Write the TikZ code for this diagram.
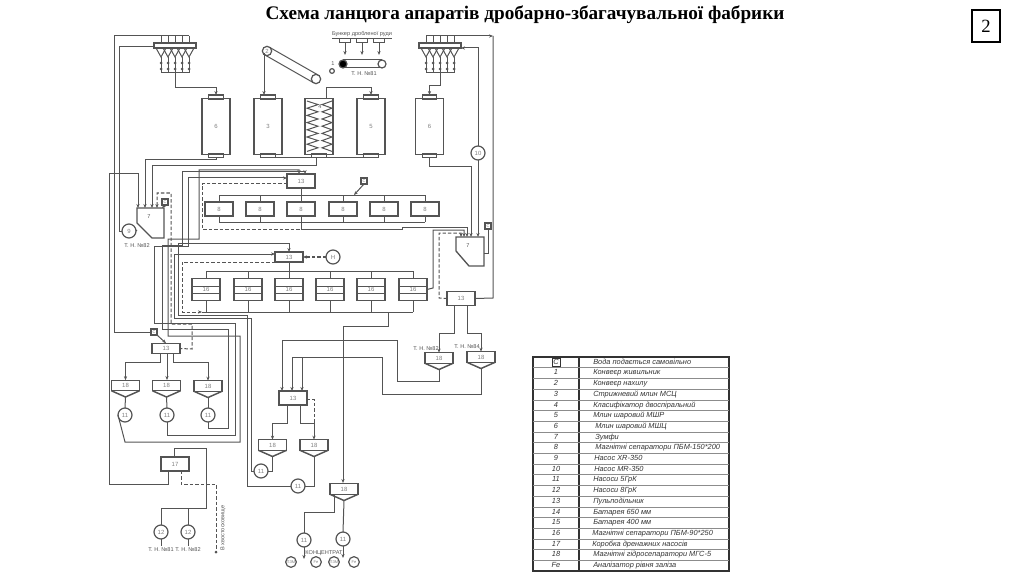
\documentclass[tikz,border=0pt]{standalone}
\usepackage{fontspec}
\setmainfont{Liberation Serif}
\setsansfont{Liberation Sans}
\usetikzlibrary{arrows.meta,positioning,calc}
\definecolor{pipegray}{gray}{0.33}
\tikzset{
  >={Stealth[length=3pt,width=2.4pt]},
  pipe/.style={draw=pipegray,line width=0.75pt},
  drain/.style={draw=pipegray,line width=0.75pt,dash pattern=on 2.6pt off 1.5pt},
  unit/.style={draw=pipegray,line width=0.9pt,inner sep=0pt,outer sep=0pt,font=\sffamily\fontsize{4.5}{5}\selectfont,text=gray},
  sepbox/.style={unit,minimum width=21pt,minimum height=10.5pt},
  splitbox/.style={unit,minimum width=21pt,minimum height=10.5pt},
  millbox/.style={unit,minimum width=21pt,minimum height=41.5pt},
  capbox/.style={unit,minimum width=11pt,minimum height=3pt},
  hopperbox/.style={unit,minimum width=21pt,minimum height=8pt},
  pumpnode/.style={unit,circle,minimum size=10.5pt},
  waternode/.style={unit,minimum size=4.5pt,font=\sffamily\fontsize{3}{3}\selectfont},
  tag/.style={inner sep=0pt,font=\sffamily\fontsize{4.2}{5}\selectfont,text=pipegray},
  legtext/.style={inner sep=0pt,anchor=west,text height=4pt,text depth=1.2pt,font=\sffamily\itshape\fontsize{5.55}{7}\selectfont,text=black!80},
  legnum/.style={inner sep=0pt,text height=4pt,text depth=1.2pt,font=\sffamily\itshape\fontsize{5.55}{7}\selectfont,text=black!80},
}
\begin{document}
\begin{tikzpicture}[x=0.75pt,y=-0.75pt]
  \useasboundingbox (0,0) rectangle (1024,574);

  % title and page number
  \node[font=\bfseries\fontsize{14.4}{16}\selectfont] (title) at (525,15) {Схема ланцюга апаратів дробарно-збагачувальної фабрики};
  \node[draw,line width=1pt,minimum width=21pt,minimum height=24pt,inner sep=0pt,font=\fontsize{14}{16}\selectfont] (pagebox) at (986,26) {2};

  % feed hoppers
  \foreach \g/\x in {L/154,R/419}{
    \node[unit,minimum width=31.5pt,minimum height=3.7pt] (bar\g) at ({\x+21},45.5) {};
    \foreach \k in {0,...,4}{
      \coordinate (top\g\k) at ({\x+7+\k*7},36);
      \coordinate (foot\g\k) at ({\x+7+\k*7},73);
      \draw[pipe] ({\x+2+\k*7},48) -- ({\x+7+\k*7},57) -- ({\x+12+\k*7},48);
      \draw[pipe] (top\g\k) -- ({\x+7+\k*7},43);
      \draw[pipe] ({\x+7+\k*7},57) -- (foot\g\k);
      \fill[pipegray] ({\x+7+\k*7},63) circle (1.5) ({\x+7+\k*7},69) circle (1.5);
    }
    \draw[pipe] (top\g0) -- (top\g4);
    \draw[pipe] (foot\g0) -- (foot\g4);
  }
  \coordinate (feedLout) at (175,73);
  \coordinate (feedRout) at (440,73);

  % mills
  \foreach \n/\x/\t in {millA/216/6,millB/268/3,millC/371/5,millD/429.5/6}{
    \node[millbox] (\n) at (\x,126.5) {\t};
    \node[capbox] (\n-top) at (\x,97) {};
    \node[capbox] (\n-bot) at (\x,155.5) {};
  }
  \node[millbox] (clsf) at (319,126.5) {};
  \node[capbox] (clsf-bot) at (319,155.5) {};
  \node[tag] (clsflabel) at (320,107) {4};
  \foreach \a/\b in {307/318,332/322}{
    \draw[pipe] (\a,101) foreach \k in {1,...,7} { -- (\b,{101+(2*\k-1)*3.6}) -- (\a,{101+2*\k*3.6}) };
  }

  % conveyors
  \node[unit,circle,minimum size=7pt] (pulleyA) at (267,51) {2};
  \node[unit,circle,minimum size=7pt] (pulleyB) at (316,79) {};
  \draw[pipe] ($(pulleyA)+(2.2,-3.9)$) -- ($(pulleyB)+(2.2,-3.9)$);
  \draw[pipe] ($(pulleyA)+(-2.2,3.9)$) -- ($(pulleyB)+(-2.2,3.9)$);
  \node[unit,circle,fill=black,minimum size=6pt] (pulleyC) at (343,64) {};
  \node[unit,circle,minimum size=6pt] (pulleyD) at (382,64) {};
  \draw[pipe] (pulleyC.north) -- (pulleyD.north);
  \draw[pipe] (pulleyC.south) -- (pulleyD.south);
  \node[tag] (conv1) at (333,64) {1};
  \node[unit,circle,minimum size=3.5pt] (conv1mark) at (332,71) {};
  \node[tag] (tn81top) at (364,74) {Т. Н. №81};
  \node[tag] (bunker) at (362,35) {\underline{Бункер дробленої руди}};
  \foreach \k/\x in {1/345,2/362,3/379}{
    \node[unit,minimum width=8pt,minimum height=3.5pt] (bin\k) at (\x,40.5) {};
    \coordinate (binout\k) at (\x,55);
    \draw[pipe,->] (bin\k.south) -- (binout\k);
  }

  % mill feeds
  \draw[pipe,->] (feedLout) -- (175,88) -| (millA-top.north);
  \draw[pipe,->] (feedRout) -- (440,86) -| (millD-top.north);
  \coordinate (beltB) at (264,53);
  \coordinate (beltBend) at (264,95);
  \draw[pipe,->] (beltB) -- (beltBend);
  \coordinate (clsfin) at (326,99);
  \draw[pipe,->] (clsfin) -- (326,88) -| (millC-top.north);

  % sump left
  \draw[pipe,line width=1pt] (137,208) -- (164,208) -- (164,238) -- (152,238) -- (137,223) -- cycle;
  \node[tag] (zumpfL) at (149,217) {7};
  \foreach \k/\x in {1/138,2/145,3/152,4/157,5/162}{ \coordinate (zL\k) at (\x,208); }
  \node[waternode] (waterA) at (165,202) {С};
  \draw[pipe,->] (waterA.south) -- (zL5);
  \node[pumpnode] (pump9) at (129,231) {9};
  \coordinate (zLside) at (137,230);
  \draw[pipe] (pump9.east) -- (zLside);
  \node[tag] (tn82L) at (137,246) {Т. Н. №82};

  % sump right
  \draw[pipe,line width=1pt] (456,237) -- (484,237) -- (484,266) -- (469,266) -- (456,251) -- cycle;
  \node[tag] (zumpfR) at (468,246) {7};
  \foreach \k/\x in {1/464,2/467,3/471,4/478}{ \coordinate (zR\k) at (\x,237); }
  \node[waternode] (waterB) at (488,226) {С};
  \coordinate (zRside) at (484,253);
  \draw[pipe] (waterB.south) |- (zRside);
  \node[pumpnode] (pump10) at (478,153) {10};

  % magnetic separators, upper row
  \foreach \k/\x in {1/219,2/260,3/301,4/343,5/384,6/425}{
    \node[sepbox] (sep\k) at (\x,209) {8};
    \coordinate (sep\k-up) at (\x,195);
    \coordinate (sep\k-dn) at (\x,222);
    \draw[pipe] (sep\k-up) -- (sep\k.north);
    \draw[pipe] (sep\k.south) -- (sep\k-dn);
  }
  \draw[pipe] (sep1-up) -- (sep6-up);
  \draw[pipe] (sep1-dn) -- (sep6-dn);
  \node[splitbox] (splitA) at (301,181) {13};
  \draw[pipe] (splitA.south) -- (sep3-up);
  \coordinate (sepout) at (301,229);
  \draw[pipe] (sep3-dn) -- (sepout);
  \draw[pipe,->] (sepout) -- (402,229) -- (402,227) -| (zR2);
  \node[waternode] (waterC) at (364,181) {С};
  \coordinate (waterCend) at (354,195);
  \draw[pipe,->] (waterC.south) -- (waterCend);

  % magnetic separators, lower row
  \foreach \k/\x in {1/206,2/248,3/289,4/330,5/371,6/413}{
    \node[unit,minimum width=21pt,minimum height=16pt] (mag\k) at (\x,289.5) {16};
    \draw[pipe] (mag\k.west |- 0,286) -- (mag\k.east |- 0,286);
    \draw[pipe] (mag\k.west |- 0,293) -- (mag\k.east |- 0,293);
    \coordinate (mag\k-up) at (\x,271);
    \coordinate (mag\k-dn) at (\x,312);
    \draw[pipe] (mag\k-up) -- (mag\k.north);
    \draw[pipe] (mag\k.south) -- (mag\k-dn);
  }
  \draw[pipe] (mag1-up) -- (mag6-up);
  \coordinate (busstart) at (202,312);
  \draw[pipe] (busstart) -- (mag6-dn);
  \node[unit,minimum width=21pt,minimum height=7.5pt] (splitB) at (289,257) {13};
  \node[pumpnode] (gaugeH) at (333,257) {Н};
  \draw[drain,->,line width=1.1pt] (gaugeH.west) -- (splitB.east);
  \draw[pipe] (splitB.south) -- (mag3-up);

  % lower splitters and hoppers
  \node[splitbox] (splitC) at (461,298.5) {13};
  \node[splitbox,minimum height=8pt] (splitD) at (166,348.5) {13};
  \node[splitbox] (splitE) at (293,398) {13};
  \foreach \n/\x/\y in {hopA/125.5/385.5,hopB/166.5/385.5,hopC/208/386,hopD/272.5/445,hopE/314/445,hopF/344/489,hopG/439/358,hopH/481/357}{
    \node[hopperbox] (\n) at (\x,\y) {18};
    \coordinate (\n-tip) at (\x,{\y+11.5});
    \draw[pipe,line width=1.1pt] (\n.south west) -- (\n-tip) -- (\n.south east);
  }
  \foreach \n/\x/\y in {pumpA/125/415,pumpB/167/415,pumpC/208/415,pumpD/261/471,pumpE/298/486,pumpF/304/540,pumpG/343/539}{
    \node[pumpnode] (\n) at (\x,\y) {11};
  }
  \node[pumpnode] (pumpH) at (161,532) {12};
  \node[pumpnode] (pumpI) at (188,532) {12};
  \draw[pipe] (hopA-tip) -- (pumpA.north);
  \draw[pipe] (hopB-tip) -- (pumpB.north);
  \draw[pipe] (hopC-tip) -- (pumpC.north);
  \draw[pipe] (hopD-tip) |- (pumpD.east);
  \draw[pipe] (hopE-tip) |- (pumpE.east);
  \draw[pipe] (hopF-tip) -- (pumpG.north);
  \coordinate (hopFside) at (334,495);
  \draw[pipe] (hopFside) -- (334,512) -| (pumpF.north);

  % water and splitter D
  \node[waternode] (waterD) at (154,332) {С};
  \draw[pipe,->] (waterD.south east) -- (splitD.north);
  \draw[pipe] (topL4) -- (114,36) |- (waterD.west);
  \coordinate (sDa) at (160,353);
  \coordinate (sDb) at (167,353);
  \coordinate (sDc) at (173,353);
  \draw[pipe,->] (sDa) -- (160,362) -| (hopA.north);
  \draw[pipe,->] (sDb) -- (167,380);
  \draw[pipe,->] (sDc) -- (173,362) -| (hopC.north);

  % splitter E and hoppers D E
  \coordinate (sEa) at (287,405);
  \coordinate (sEb) at (300,405);
  \draw[pipe,->] (sEa) -- (287,423) -| (hopD.north);
  \draw[pipe,->] (sEb) -- (300,423) -| (hopE.north);
  \coordinate (dashE) at (314,423);
  \coordinate (dashEs) at (307,399);
  \draw[drain] (dashEs) -| (dashE);

  % splitter C and hoppers G H
  \coordinate (sCa) at (454,306);
  \coordinate (sCb) at (467,306);
  \draw[pipe,->] (sCa) -- (454,333) -| (hopG.north);
  \draw[pipe,->] (sCb) -- (467,333) -| (hopH.north);
  \node[tag] (tn82R) at (426,349) {Т. Н. №82};
  \node[tag] (tn84R) at (467,347) {Т. Н. №84};

  % returns to splitter E
  \coordinate (sEin1) at (282,391);
  \coordinate (sEin2) at (292,391);
  \coordinate (sEin3) at (302,391);
  \draw[pipe,->] (hopG-tip) -- (439,381) -- (397,381) -- (397,340) -| (sEin1);
  \draw[pipe,->] (hopH-tip) -- (481,394) -- (382,394) -- (382,357) -| (sEin2);
  \coordinate (sEtap) at (302,357);
  \draw[pipe,->] (sEtap) -- (sEin3);

  % outlet of lower separators to hopper F
  \coordinate (busout) at (388,312);
  \coordinate (hopFin) at (343,483);
  \draw[pipe,->] (busout) -- (388,326) -- (343,326) -- (hopFin);

  % feeds of the sumps and splitter A
  \draw[pipe,->] (millA-bot.south) -- (216,160) -- (145,160) -- (zL2);
  \draw[pipe] (millB-bot.south) -- (millC-bot.south);
  \coordinate (tapA) at (316,157.5);
  \draw[pipe,->] (tapA) -- (316,166) -- (152,166) -- (zL3);
  \coordinate (tapB) at (109,174);
  \draw[pipe,->] (tapB) -- (138,174) -- (zL1);
  \coordinate (drainOut) at (168,471);
  \draw[pipe] (tapB) -- (109,484) -- (168,484) -- (drainOut);
  \draw[pipe,->] (millD-bot.south) -- (429.5,167) -- (471,167) -- (zR3);
  \draw[pipe,->] (pump10.south) -- (zR4);
  \coordinate (pumpTen) at (461,48);
  \draw[pipe,->] (pump10.north) -- (478,48) -- (pumpTen);
  \coordinate (topRend) at (493,36);
  \draw[pipe,->] (topR0) -- (topRend);

  % left pump line
  \coordinate (feedLside) at (154,47);
  \draw[pipe] (feedLside) -- (119,47) |- (pump9.west);

  % returns of the left pumps
  \coordinate (sAin1) at (299,174);
  \coordinate (sAin2) at (305,174);
  \draw[pipe,->] (pumpA.west) -- (125,442) -- (240,442) -- (240,336) -- (168,336) -- (168,239) -- (199,239) -- (199,170) -- (299,170) -- (sAin1);
  \draw[pipe,->] (pumpB.south) -- (167,435) -- (235,435) -- (235,323) -- (154,323) -- (154,246) -- (188,246) -- (188,178) -- (287,178);
  \draw[pipe,->] (pumpC.south) -- (208,428) -- (228,428) -- (228,329) -- (162,329) -- (162,245) -- (182,245) -- (182,172) -- (305,172) -- (sAin2);

  % drainage lines
  \coordinate (dashA) at (287,184);
  \draw[drain] (dashA) -- (202,184) -- (202,229) -- (sepout);
  \draw[drain,<-] (zL4) -- (157,193) -- (171,193) -- (171,324) -- (192,324) -- (192,349) -- (splitD.east);
  \draw[drain,->] (splitB.south west) -- (182,262) -- (182,312) -- (busstart);
  \draw[drain,->] (splitC.west) -- (439,298) -- (439,233) -- (461,233) -- (461,237);

  % feeds of splitters B and C and the last pumps
  \draw[pipe,->] (pumpE.west) -- (247,486) -- (247,315) -- (178,315) -- (178,243) -- (289,243) -- (splitB.north);
  \draw[pipe,->] (pumpD.west) -- (251,471) -- (251,318) -- (174,318) -- (174,254) -- (275,254);
  \draw[pipe,->] (mag6.east) -- (433,288) -- (433,230) -- (464,230) -- (zR1);
  \draw[pipe] (topRend) -- (493,298) -- (splitC.east);

  % drain box
  \node[splitbox] (drainbox) at (175,464) {17};
  \coordinate (drainA) at (174,457);
  \coordinate (drainB) at (181,471);
  \coordinate (tail) at (216,552);
  \draw[pipe] (drainA) -- (174,448) -- (206,448) -- (206,508) -- (161,508) -- (pumpH.north);
  \coordinate (drainC) at (188,508);
  \draw[pipe] (drainC) -- (pumpI.north);
  \draw[drain] (drainB) -- (181,484) -- (216,484) -- (tail);
  \fill[pipegray] (tail) circle (1.5);
  \node[tag,rotate=90] (tailing) at (223,528) {В хвостосховище};
  \coordinate (tnA) at (161,546);
  \coordinate (tnB) at (188,546);
  \draw[pipe] (pumpH.south) -- (tnA);
  \draw[pipe] (pumpI.south) -- (tnB);
  \node[tag] (tn81L) at (161,550) {Т. Н. №81};
  \node[tag] (tn82B) at (188,550) {Т. Н. №82};

  % concentrate
  \coordinate (outF) at (304,559);
  \coordinate (outG) at (343,558);
  \draw[pipe,->] (pumpF.south) -- (outF);
  \draw[pipe,->] (pumpG.south) -- (outG);
  \node[tag] (conc) at (324,553) {КОНЦЕНТРАТ};
  \foreach \n/\x/\t in {gA/291/ПЗМ,gB/316/Fe,gC/334/ПЗМ,gD/354/Fe}{
    \node[unit,circle,minimum size=8pt,font=\sffamily\fontsize{3}{4}\selectfont] (\n) at (\x,562) {\t};
  }

  % legend
  \draw[line width=0.9pt,draw=black!80] (533,357) rectangle (729,571);
  \draw[line width=0.9pt,draw=black!80] (579,357) -- (579,571);
  \foreach \k/\n/\x/\t in {
    1/С/593/Вода подається самовільно,
    2/1/593/Конвеєр живильник,
    3/2/593/Конвеєр нахилу,
    4/3/593/Стрижневий млин МСЦ,
    5/4/593/Класифікатор двоспіральний,
    6/5/593/Млин шаровий МШР,
    7/6/595/Млин шаровий МШЦ,
    8/7/595/Зумфи,
    9/8/595/Магнітні сепаратори ПБМ-150*200,
    10/9/594/Насос XR-350,
    11/10/594/Насос MR-350,
    12/11/593/Насоси 5ГрК,
    13/12/593/Насоси 8ГрК,
    14/13/593/Пульподільник,
    15/14/593/Батарея 650 мм,
    16/15/593/Батарея 400 мм,
    17/16/592/Магнітні сепаратори ПБМ-90*250,
    18/17/592/Коробка дренажних насосів,
    19/18/593/Магнітні гідросепаратори МГС-5,
    20/Fe/593/Аналізатор рівня заліза}{
    \node[legnum] (legn\k) at (556,{357+(\k-0.5)*10.7}) {\n};
    \node[legtext] (legt\k) at (\x,{357+(\k-0.5)*10.7}) {\t};
    \ifnum\k<20 \draw[draw=black!45,line width=0.4pt] (533,{357+\k*10.7}) -- (729,{357+\k*10.7}); \fi
  }
  \node[draw=black!80,line width=0.6pt,minimum size=6pt,inner sep=0pt] (legbox) at (556,362) {};
\end{tikzpicture}
\end{document}
